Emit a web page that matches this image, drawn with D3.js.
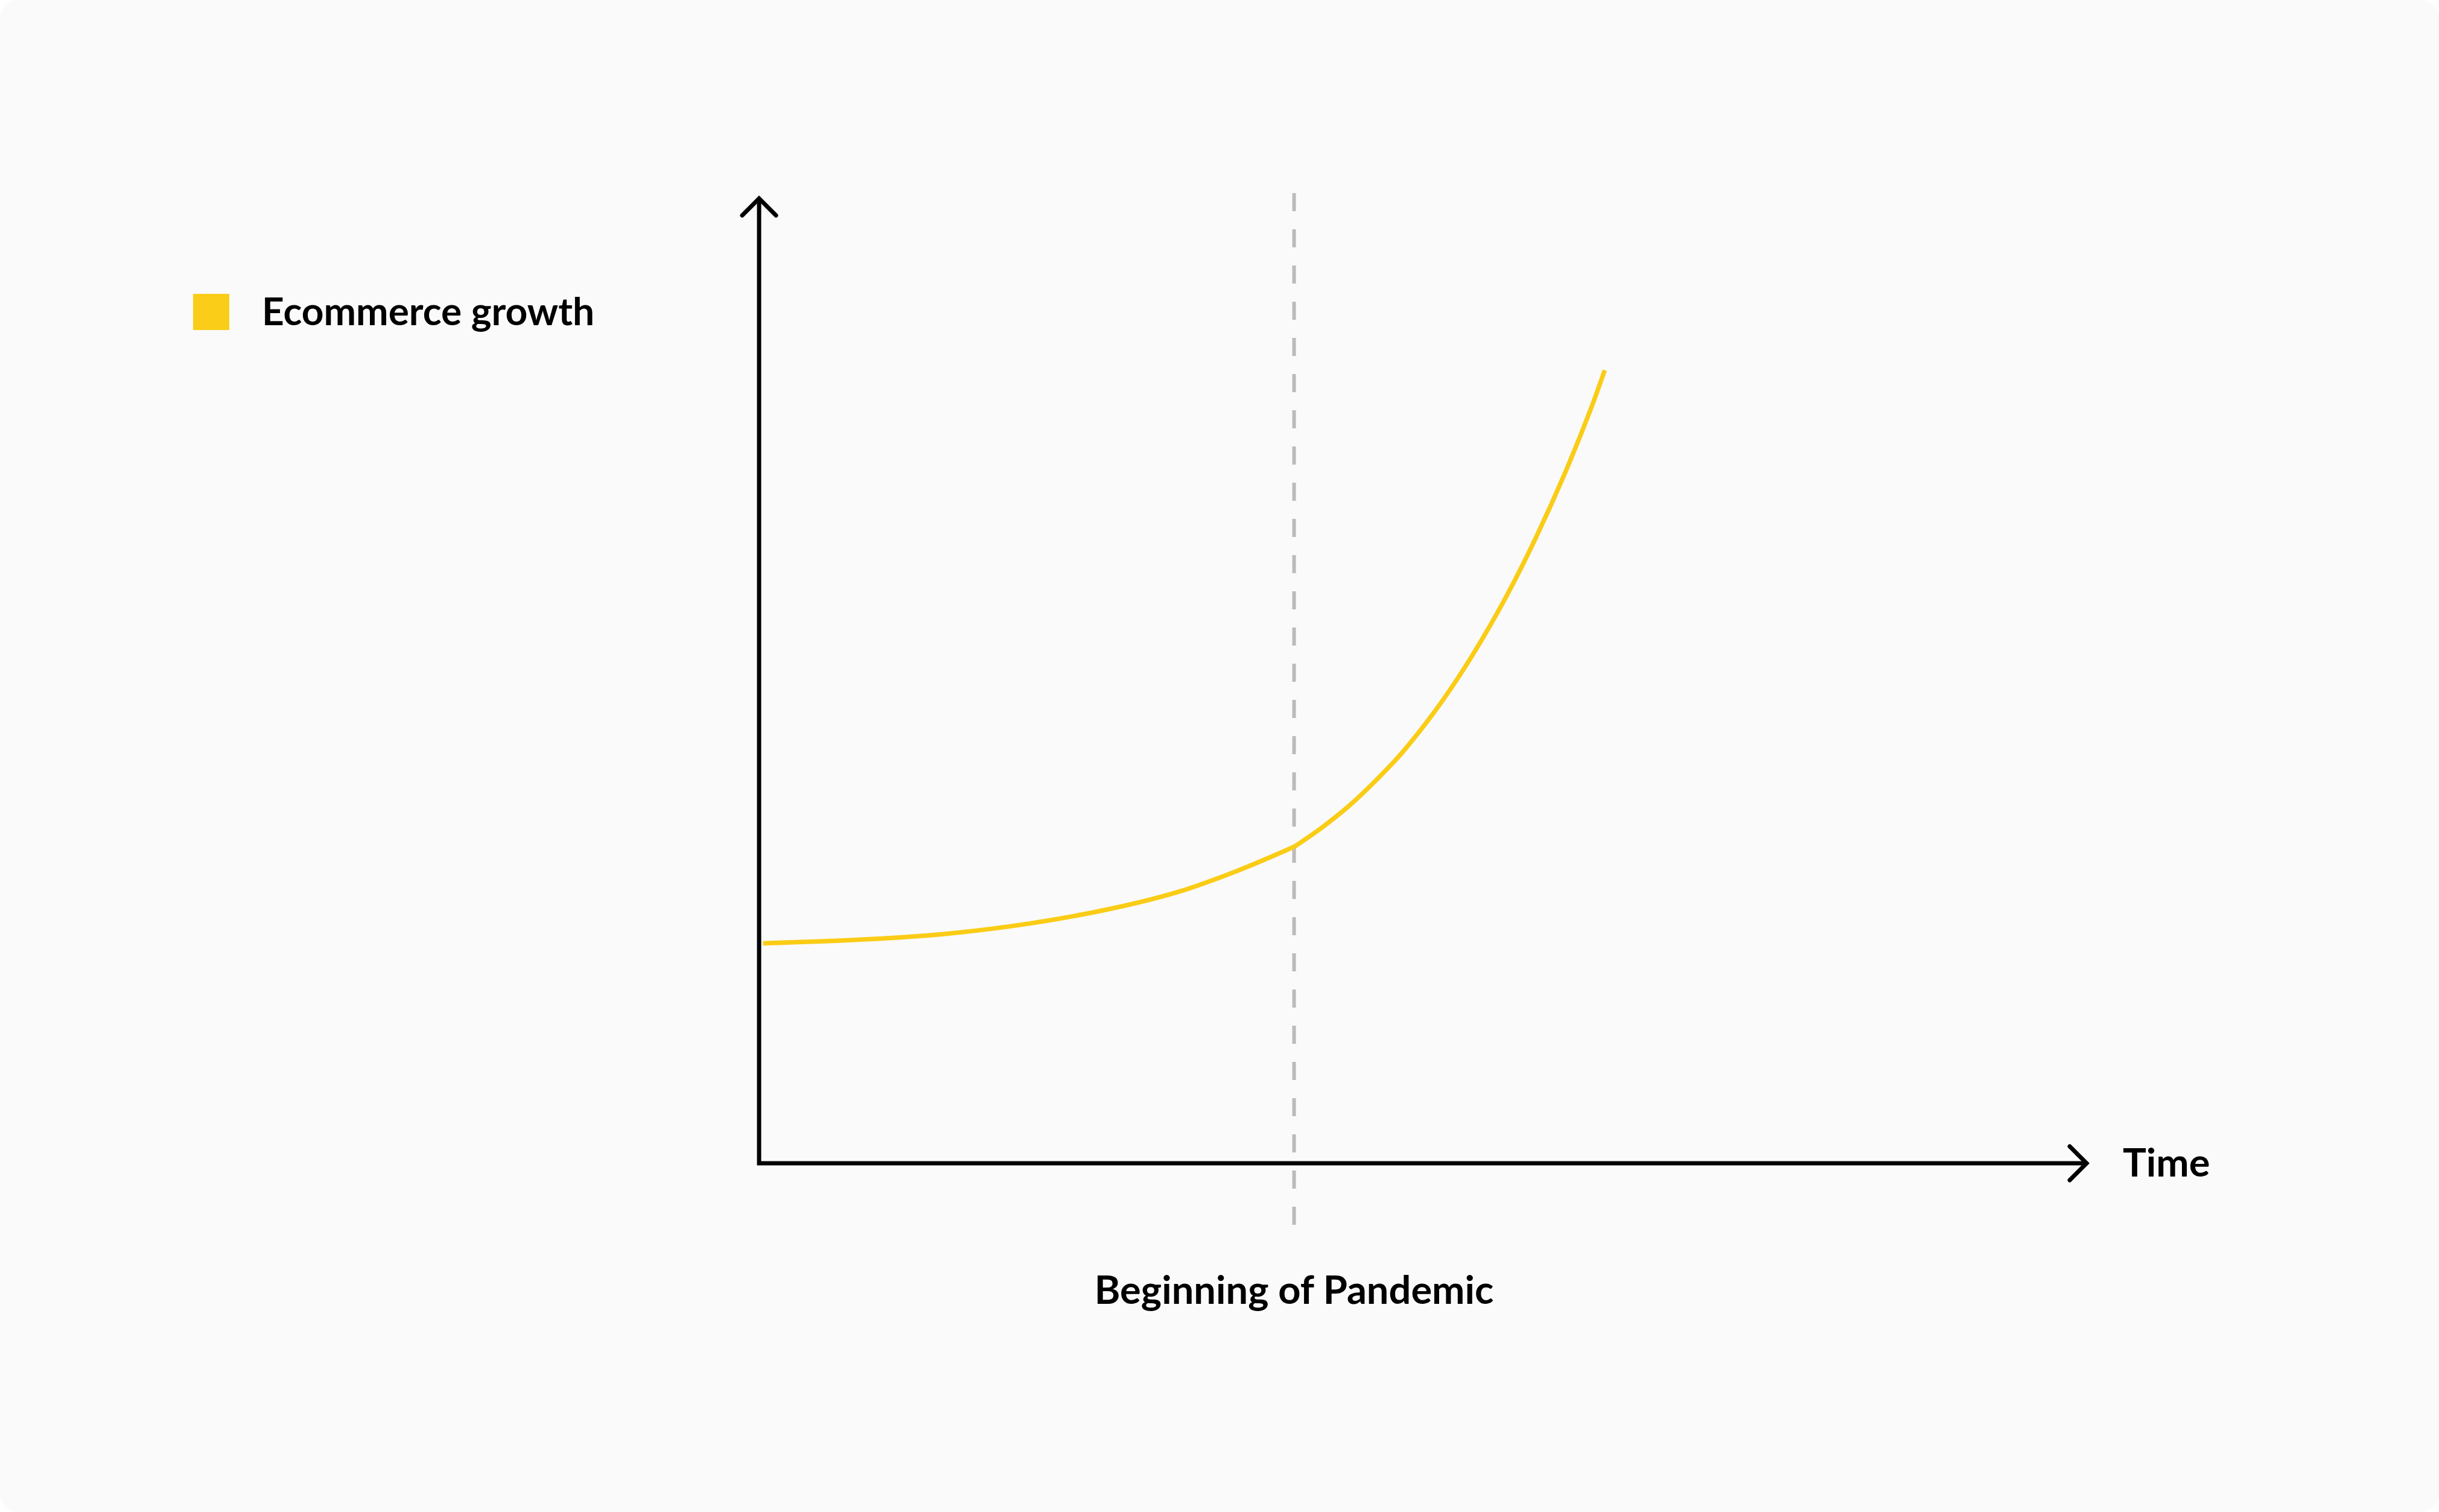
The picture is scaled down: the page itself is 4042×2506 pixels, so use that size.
<!DOCTYPE html>
<html>
<head>
<meta charset="utf-8">
<script src="https://cdn.jsdelivr.net/npm/d3@7"></script>
<style>
  html, body { margin: 0; padding: 0; background: #ffffff; }
  svg { display: block; }
  text { font-family: Lato, "Open Sans", sans-serif; font-weight: 700; fill: #000; }
</style>
</head>
<body>
<div id="chart"></div>
<script>
// values, time and growth both in % of the axis length
const preTime = [0.3, 7.9, 14.2, 20.6, 26.9, 31.5, 36.0, 40.3]
const preGrowth = [22.8, 23.2, 23.8, 24.9, 26.5, 28.1, 30.3, 32.8]
const postTime = [40.3, 42.3, 44.4, 46.4, 48.4, 50.5, 52.5, 54.5, 56.5, 58.5, 60.6, 62.6, 63.7]
const postGrowth = [32.8, 34.7, 37.0, 39.6, 42.5, 46.1, 50.0, 54.4, 59.3, 64.8, 71.2, 78.0, 82.2]
const pandemicTime = 40.3
const seriesName = "Ecommerce growth"
const eventLabel = "Beginning of Pandemic"
const xLabel = "Time"

let width = 4042
let height = 2506

let svg = d3.select("#chart").append("svg")
    .attr("width", width)
    .attr("height", height)

svg.append("rect")
    .attr("width", width)
    .attr("height", height)
    .attr("rx", 30)
    .attr("fill", "#fafafa")

let x = d3.scaleLinear().domain([0, 100]).range([1258, 3458])
let y = d3.scaleLinear().domain([0, 100]).range([1928, 329])

let line = d3.line()
    .x(d => x(d[0]))
    .y(d => y(d[1]))
    .curve(d3.curveCatmullRom.alpha(0.5))

// dashed marker for the pandemic
svg.append("line")
    .attr("x1", x(pandemicTime))
    .attr("x2", x(pandemicTime))
    .attr("y1", 320)
    .attr("y2", 2031)
    .attr("stroke", "#bbbbbb")
    .attr("stroke-width", 6)
    .attr("stroke-dasharray", "30 30")

// axes with arrow heads
let axisPath = `M${x(0)} ${y(100)} L${x(0)} ${y(0)} L${x(100)} ${y(0)}`
svg.append("path")
    .attr("d", axisPath)
    .attr("fill", "none")
    .attr("stroke", "#000")
    .attr("stroke-width", 7)
    .attr("stroke-linejoin", "miter")

let arm = 28
svg.append("path")
    .attr("d", `M${x(0) - arm} ${y(100) + arm} L${x(0)} ${y(100)} L${x(0) + arm} ${y(100) + arm}`)
    .attr("fill", "none")
    .attr("stroke", "#000")
    .attr("stroke-width", 7)
    .attr("stroke-linecap", "round")
    .attr("stroke-linejoin", "miter")

svg.append("path")
    .attr("d", `M${x(100) - arm} ${y(0) - arm} L${x(100)} ${y(0)} L${x(100) - arm} ${y(0) + arm}`)
    .attr("fill", "none")
    .attr("stroke", "#000")
    .attr("stroke-width", 7)
    .attr("stroke-linecap", "round")
    .attr("stroke-linejoin", "miter")

// the growth curve, before and after the pandemic
svg.append("path")
    .datum(preTime.map((t, i) => [t, preGrowth[i]]))
    .attr("d", line)
    .attr("fill", "none")
    .attr("stroke", "#facc15")
    .attr("stroke-width", 7.5)

svg.append("path")
    .datum(postTime.map((t, i) => [t, postGrowth[i]]))
    .attr("d", line)
    .attr("fill", "none")
    .attr("stroke", "#facc15")
    .attr("stroke-width", 7.5)

// labels
svg.append("text")
    .attr("x", 3518)
    .attr("y", 1950)
    .attr("font-size", 65)
    .text(xLabel)

svg.append("text")
    .attr("x", x(pandemicTime))
    .attr("y", 2161)
    .attr("text-anchor", "middle")
    .attr("font-size", 65)
    .text(eventLabel)

// legend
svg.append("rect")
    .attr("x", 320)
    .attr("y", 487)
    .attr("width", 60)
    .attr("height", 60)
    .attr("fill", "#facd18")

svg.append("text")
    .attr("x", 434)
    .attr("y", 539)
    .attr("font-size", 64)
    .text(seriesName)
</script>
</body>
</html>
